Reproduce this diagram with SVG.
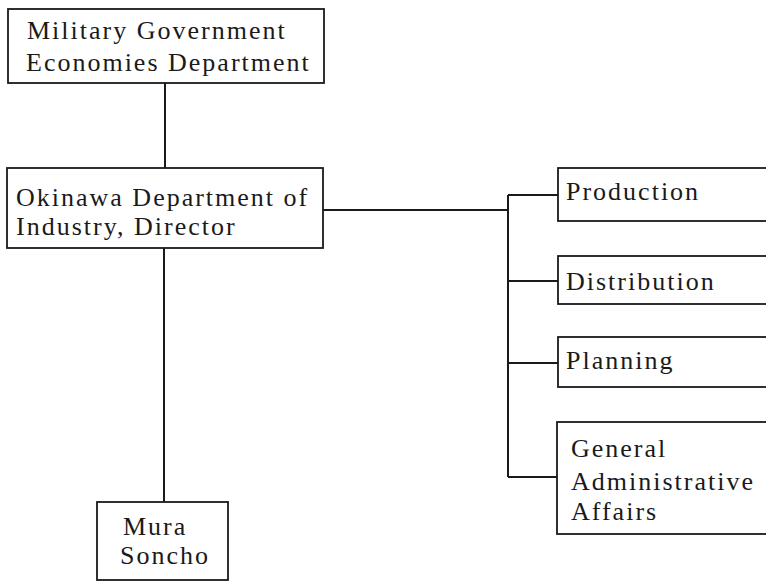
<svg xmlns="http://www.w3.org/2000/svg" width="766" height="583" viewBox="0 0 766 583">
  <style>
    .box { fill: #ffffff; stroke: #1a1a1a; stroke-width: 1.8; }
    .link { fill: none; stroke: #1a1a1a; stroke-width: 2; }
    .label { font-family: "Liberation Serif", "Times New Roman", serif; font-size: 26px; letter-spacing: 2px; fill: #1a1a1a; }
  </style>
  <rect width="766" height="583" fill="#ffffff"/>

  <!-- connectors -->
  <g id="connectors">
    <line class="link" x1="165" y1="83" x2="165" y2="168"/>
    <line class="link" x1="164" y1="248" x2="164" y2="502"/>
    <line class="link" x1="323" y1="210" x2="508" y2="210"/>
    <line class="link" x1="508" y1="195" x2="508" y2="477"/>
    <line class="link" x1="508" y1="195" x2="558" y2="195"/>
    <line class="link" x1="508" y1="281" x2="558" y2="281"/>
    <line class="link" x1="508" y1="363" x2="558" y2="363"/>
    <line class="link" x1="508" y1="477" x2="558" y2="477"/>
  </g>

  <!-- top: military government -->
  <g id="military-government">
    <rect class="box" x="8" y="9" width="316" height="74"/>
    <text class="label" x="27" y="39">Military Government</text>
    <text class="label" x="26" y="71">Economies Department</text>
  </g>

  <!-- okinawa department of industry -->
  <g id="okinawa-industry">
    <rect class="box" x="7" y="168" width="316" height="80"/>
    <text class="label" x="16" y="206">Okinawa Department of</text>
    <text class="label" x="16" y="235">Industry, Director</text>
  </g>

  <!-- sections, running off the right edge -->
  <g id="production">
    <rect class="box" x="558" y="168" width="220" height="53"/>
    <text class="label" x="566" y="200">Production</text>
  </g>
  <g id="distribution">
    <rect class="box" x="558" y="256" width="220" height="48"/>
    <text class="label" x="566" y="290">Distribution</text>
  </g>
  <g id="planning">
    <rect class="box" x="558" y="337" width="220" height="50"/>
    <text class="label" x="566" y="369">Planning</text>
  </g>
  <g id="general-affairs">
    <rect class="box" x="557" y="422" width="221" height="112"/>
    <text class="label" x="571" y="457">General</text>
    <text class="label" x="571" y="490">Administrative</text>
    <text class="label" x="571" y="520">Affairs</text>
  </g>

  <!-- mura soncho -->
  <g id="mura-soncho">
    <rect class="box" x="97" y="502" width="131" height="78"/>
    <text class="label" x="123" y="535">Mura</text>
    <text class="label" x="120" y="564">Soncho</text>
  </g>
</svg>
